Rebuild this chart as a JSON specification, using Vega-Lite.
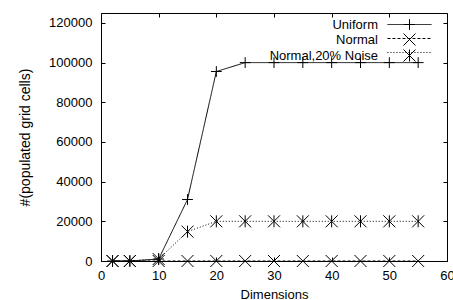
{
  "$schema": "https://vega.github.io/schema/vega-lite/v6.json",
  "width": 346,
  "height": 248,
  "autosize": {"type": "none"},
  "padding": {"left": 101, "top": 13, "right": 6, "bottom": 39},
  "background": "white",
  "config": {
    "font": "Liberation Sans",
    "view": {"stroke": null},
    "axis": {
      "domainColor": "black",
      "domainWidth": 1,
      "tickColor": "black",
      "tickWidth": 1,
      "tickSize": -4,
      "grid": false,
      "labelFont": "Liberation Sans",
      "labelFontSize": 13,
      "labelColor": "black",
      "titleFont": "Liberation Sans",
      "titleFontWeight": "normal",
      "titleColor": "black"
    },
    "legend": {
      "labelFont": "Liberation Sans",
      "labelFontSize": 13,
      "labelColor": "black"
    }
  },
  "data": {
    "values": [
      {"dim": 2, "series": "Uniform", "cells": 0},
      {"dim": 5, "series": "Uniform", "cells": 0},
      {"dim": 10, "series": "Uniform", "cells": 1000},
      {"dim": 15, "series": "Uniform", "cells": 31000},
      {"dim": 20, "series": "Uniform", "cells": 95500},
      {"dim": 25, "series": "Uniform", "cells": 100000},
      {"dim": 30, "series": "Uniform", "cells": 100000},
      {"dim": 35, "series": "Uniform", "cells": 100000},
      {"dim": 40, "series": "Uniform", "cells": 100000},
      {"dim": 45, "series": "Uniform", "cells": 100000},
      {"dim": 50, "series": "Uniform", "cells": 100000},
      {"dim": 55, "series": "Uniform", "cells": 100000},
      {"dim": 2, "series": "Normal", "cells": 0},
      {"dim": 5, "series": "Normal", "cells": 0},
      {"dim": 10, "series": "Normal", "cells": 0},
      {"dim": 15, "series": "Normal", "cells": 0},
      {"dim": 20, "series": "Normal", "cells": 0},
      {"dim": 25, "series": "Normal", "cells": 0},
      {"dim": 30, "series": "Normal", "cells": 0},
      {"dim": 35, "series": "Normal", "cells": 0},
      {"dim": 40, "series": "Normal", "cells": 0},
      {"dim": 45, "series": "Normal", "cells": 0},
      {"dim": 50, "series": "Normal", "cells": 0},
      {"dim": 55, "series": "Normal", "cells": 0},
      {"dim": 2, "series": "Normal,20% Noise", "cells": 0},
      {"dim": 5, "series": "Normal,20% Noise", "cells": 0},
      {"dim": 10, "series": "Normal,20% Noise", "cells": 1000},
      {"dim": 15, "series": "Normal,20% Noise", "cells": 14800},
      {"dim": 20, "series": "Normal,20% Noise", "cells": 20000},
      {"dim": 25, "series": "Normal,20% Noise", "cells": 20000},
      {"dim": 30, "series": "Normal,20% Noise", "cells": 20000},
      {"dim": 35, "series": "Normal,20% Noise", "cells": 20000},
      {"dim": 40, "series": "Normal,20% Noise", "cells": 20000},
      {"dim": 45, "series": "Normal,20% Noise", "cells": 20000},
      {"dim": 50, "series": "Normal,20% Noise", "cells": 20000},
      {"dim": 55, "series": "Normal,20% Noise", "cells": 20000}
    ]
  },
  "resolve": {"axis": {"x": "independent", "y": "independent"}},
  "layer": [
    {
      "mark": {"type": "line", "stroke": "black", "strokeWidth": 1},
      "encoding": {
        "x": {
          "field": "dim", "type": "quantitative",
          "scale": {"domain": [0, 60], "nice": false, "zero": false},
          "axis": {"orient": "bottom", "values": [0, 10, 20, 30, 40, 50, 60], "title": "Dimensions", "titleFontSize": 13, "labelPadding": 12, "titlePadding": 6, "labelFlush": false, "labelOverlap": false}
        },
        "y": {
          "field": "cells", "type": "quantitative",
          "scale": {"domain": [0, 125000], "nice": false},
          "axis": {"orient": "left", "values": [0, 20000, 40000, 60000, 80000, 100000, 120000], "title": "#(populated grid cells)", "titleFontSize": 14, "labelPadding": 13, "titlePadding": 16, "format": "d", "labelFlush": false, "labelOverlap": false}
        },
        "strokeDash": {
          "field": "series", "type": "nominal",
          "sort": ["Uniform", "Normal", "Normal,20% Noise"],
          "scale": {"range": [[1, 0], [3, 2], [1, 2]]},
          "legend": {
            "title": null,
            "orient": "none",
            "legendX": 172,
            "legendY": 5,
            "padding": 0,
            "symbolType": "M-3.67,0H3.67",
            "symbolSize": 144,
            "symbolStrokeWidth": 1,
            "symbolStrokeColor": "black",
            "symbolOffset": 130,
            "labelOffset": -38,
            "labelAlign": "right",
            "labelLimit": 200,
            "labelOpacity": 0,
            "rowPadding": -1
          }
        }
      }
    },
    {
      "mark": {"type": "point", "filled": false, "stroke": "black", "strokeWidth": 1, "size": 144, "opacity": 1},
      "encoding": {
        "x": {
          "field": "dim", "type": "quantitative",
          "axis": {"orient": "top", "values": [0, 10, 20, 30, 40, 50, 60], "labels": false, "title": null}
        },
        "y": {
          "field": "cells", "type": "quantitative",
          "axis": {"orient": "right", "values": [0, 20000, 40000, 60000, 80000, 100000, 120000], "labels": false, "title": null}
        },
        "shape": {
          "field": "series", "type": "nominal",
          "scale": {
            "domain": ["Uniform", "Normal", "Normal,20% Noise"],
            "range": ["M-0.9,0H0.9M0,-0.9V0.9", "M-1,-1L1,1M-1,1L1,-1", "M-1,-1L1,1M-1,1L1,-1M0,-1V1"]
          },
          "legend": {
            "title": null,
            "orient": "none",
            "legendX": 172,
            "legendY": 5,
            "padding": 0,
            "symbolSize": 144,
            "symbolStrokeWidth": 1,
            "symbolStrokeColor": "black",
            "symbolOffset": 130,
            "labelOffset": -38,
            "labelAlign": "right",
            "labelLimit": 200,
            "rowPadding": -1
          }
        }
      }
    }
  ]
}
